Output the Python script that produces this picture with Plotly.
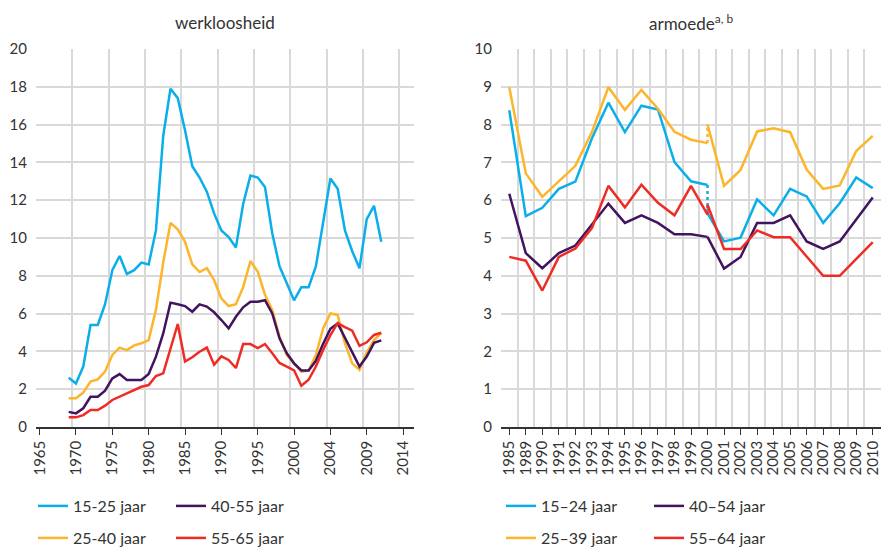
import plotly.graph_objects as go

# ---------------- data: werkloosheid (left) ----------------
# axis positions (the source axis has one extra slot after 2000, hence labels 2004/2009/2014)
werk_periode = list(range(1969, 2013))
werk_tickvals = [1965, 1970, 1975, 1980, 1985, 1990, 1995, 2000, 2005, 2010, 2015]
werk_ticktext = ["1965", "1970", "1975", "1980", "1985", "1990", "1995", "2000", "2004", "2009", "2014"]

werk_15_25 = [2.6, 2.3, 3.2, 5.4, 5.4, 6.5, 8.3, 9.05, 8.1, 8.3, 8.7, 8.6, 10.4, 15.4, 17.9, 17.4,
              15.7, 13.8, 13.2, 12.45, 11.3, 10.4, 10.05, 9.5, 11.8, 13.3, 13.2, 12.7, 10.25, 8.5,
              7.6, 6.7, 7.4, 7.4, 8.5, 10.8, 13.15, 12.6, 10.4, 9.3, 8.4, 11.0, 11.7, 9.8]
werk_25_40 = [1.52, 1.52, 1.82, 2.4, 2.52, 2.93, 3.81, 4.2, 4.07, 4.32, 4.43, 4.6, 6.2, 8.7, 10.8, 10.46,
              9.8, 8.6, 8.2, 8.4, 7.78, 6.8, 6.4, 6.5, 7.4, 8.78, 8.22, 7.0, 6.2, 4.78,
              3.81, 3.37, 2.93, 2.98, 3.81, 5.22, 6.01, 5.93, 4.43, 3.37, 3.02, 3.95, 4.6, 4.97]
werk_40_55 = [0.8, 0.72, 0.99, 1.6, 1.6, 1.92, 2.57, 2.8, 2.49, 2.49, 2.49, 2.8, 3.72, 4.95, 6.58, 6.49,
              6.4, 6.1, 6.49, 6.37, 6.07, 5.66, 5.22, 5.83, 6.33, 6.63, 6.63, 6.71, 6.01, 4.69,
              3.9, 3.37, 2.99, 2.99, 3.5, 4.4, 5.2, 5.48, 4.69, 3.9, 3.2, 3.73, 4.45, 4.58]
werk_55_65 = [0.51, 0.51, 0.63, 0.9, 0.9, 1.13, 1.43, 1.6, 1.75, 1.96, 2.13, 2.22, 2.7, 2.84, 4.16, 5.45,
              3.46, 3.69, 3.98, 4.2, 3.3, 3.74, 3.55, 3.12, 4.39, 4.39, 4.18, 4.39, 3.9, 3.39,
              3.2, 3.0, 2.18, 2.5, 3.2, 4.08, 4.86, 5.5, 5.29, 5.1, 4.29, 4.48, 4.87, 4.99]

# ---------------- data: armoede (right) ----------------
armoede_jaren = ["1985", "1989", "1990", "1991", "1992", "1993", "1994", "1995", "1996", "1997",
                 "1998", "1999", "2000", "2001", "2002", "2003", "2004", "2005", "2006", "2007",
                 "2008", "2009", "2010"]
breuk_jaar = "2000"   # series break: old definition up to 2000, new from 2000

arm_15_24_oud = [8.38, 5.58, 5.8, 6.3, 6.49, 7.63, 8.58, 7.8, 8.5, 8.4, 7.01, 6.5, 6.4]
arm_15_24_nieuw = [5.65, 4.91, 5.01, 6.02, 5.6, 6.3, 6.1, 5.4, 5.92, 6.6, 6.32]
arm_25_39_oud = [8.99, 6.71, 6.09, 6.5, 6.91, 7.8, 8.99, 8.39, 8.92, 8.42, 7.81, 7.6, 7.51]
arm_25_39_nieuw = [8.0, 6.38, 6.8, 7.82, 7.9, 7.8, 6.81, 6.3, 6.39, 7.3, 7.7]
arm_40_54_oud = [6.17, 4.6, 4.2, 4.6, 4.8, 5.35, 5.91, 5.4, 5.6, 5.4, 5.1, 5.1, 5.03]
arm_40_54_nieuw = [5.03, 4.19, 4.5, 5.4, 5.4, 5.6, 4.91, 4.71, 4.91, 5.48, 6.07]
arm_55_64_oud = [4.5, 4.4, 3.61, 4.5, 4.72, 5.26, 6.38, 5.81, 6.41, 5.93, 5.6, 6.38, 5.62]
arm_55_64_nieuw = [5.88, 4.71, 4.71, 5.2, 5.02, 5.02, 4.51, 4.0, 4.0, 4.44, 4.89]

werk_labels = ["15-25 jaar", "25-40 jaar", "40-55 jaar", "55-65 jaar"]
arm_labels = ["15\u201324 jaar", "25\u201339 jaar", "40\u201354 jaar", "55\u201364 jaar"]

BLUE, YELLOW, PURPLE, RED = "#0AAFEA", "#FDB52B", "#42145F", "#EE2C24"
colors = [BLUE, YELLOW, PURPLE, RED]
GRID = "#d9d9d9"
TXT = "#333333"
FONT = "Lato"

W, H = 882, 548
ML, MT, MB = 0, 49, 121
PH = H - MT - MB

fig = go.Figure()

# left legends: row 1 -> blue, purple ; row 2 -> yellow, red
werk_series = [werk_15_25, werk_25_40, werk_40_55, werk_55_65]
werk_legend = ["legend", "legend2", "legend", "legend2"]
for lab, ys, col, lg in zip(werk_labels, werk_series, colors, werk_legend):
    fig.add_trace(go.Scatter(x=werk_periode, y=ys, mode="lines", name=lab,
                             line=dict(color=col, width=2.5), legend=lg,
                             xaxis="x", yaxis="y", hoverinfo="skip"))

# right chart
pos = {j: i for i, j in enumerate(armoede_jaren)}
b = pos[breuk_jaar]
x_oud = list(range(0, b + 1))
x_nieuw = list(range(b, len(armoede_jaren)))
arm_oud = [arm_15_24_oud, arm_25_39_oud, arm_40_54_oud, arm_55_64_oud]
arm_nieuw = [arm_15_24_nieuw, arm_25_39_nieuw, arm_40_54_nieuw, arm_55_64_nieuw]
arm_legend = ["legend3", "legend4", "legend3", "legend4"]
for lab, yo, yn, col, lg in zip(arm_labels, arm_oud, arm_nieuw, colors, arm_legend):
    fig.add_trace(go.Scatter(x=x_oud, y=yo, mode="lines", name=lab,
                             line=dict(color=col, width=2.5), legend=lg,
                             xaxis="x2", yaxis="y2", hoverinfo="skip"))
    fig.add_trace(go.Scatter(x=x_nieuw, y=yn, mode="lines", showlegend=False,
                             line=dict(color=col, width=2.5),
                             xaxis="x2", yaxis="y2", hoverinfo="skip"))
    fig.add_trace(go.Scatter(x=[b, b], y=[yo[-1], yn[0]], mode="lines", showlegend=False,
                             line=dict(color=col, width=2.5, dash="dot"),
                             xaxis="x2", yaxis="y2", hoverinfo="skip"))

dom1 = [36 / W, 414 / W]
dom2 = [501 / W, 881 / W]

common_x = dict(ticks="outside", ticklen=6, tickwidth=1.2, tickcolor=TXT,
                showline=True, linecolor=TXT, linewidth=1.5, showgrid=False,
                zeroline=False, tickangle=-90, tickfont=dict(size=15, color=TXT, family=FONT),
                fixedrange=True, automargin=False)
common_y = dict(showgrid=True, gridcolor=GRID, gridwidth=1.5, zeroline=False, ticks="",
                showline=False, tickfont=dict(size=15, color=TXT, family=FONT),
                ticklabelstandoff=8, fixedrange=True, automargin=False)

fig.update_layout(
    width=W, height=H,
    margin=dict(l=ML, r=0, t=MT, b=MB, autoexpand=False),
    paper_bgcolor="white", plot_bgcolor="white",
    font=dict(family=FONT, color=TXT),
    xaxis=dict(domain=dom1, range=[1964.5, 2016.5], tickmode="array",
               tickvals=werk_tickvals, ticktext=werk_ticktext,
               minor=dict(tickmode="linear", tick0=1964.5, dtick=5, showgrid=True,
                          gridcolor=GRID, gridwidth=1.5, ticks=""),
               anchor="y", **common_x),
    yaxis=dict(domain=[0, 1], range=[0, 20], dtick=2, anchor="x", **common_y),
    xaxis2=dict(domain=dom2, range=[-0.5, len(armoede_jaren) - 0.5], tickmode="array",
                tickvals=list(range(len(armoede_jaren))), ticktext=armoede_jaren,
                minor=dict(tickmode="linear", tick0=-0.5, dtick=1, showgrid=True,
                           gridcolor=GRID, gridwidth=1.5, ticks=""),
                anchor="y2", **common_x),
    yaxis2=dict(domain=[0, 1], range=[0, 10], dtick=1, anchor="x2", **common_y),
    annotations=[
        dict(text="werkloosheid", x=sum(dom1) / 2, y=1 + 27 / PH, xref="paper", yref="paper",
             xanchor="center", yanchor="middle", showarrow=False,
             font=dict(size=17, color=TXT, family=FONT)),
        dict(text="armoede<sup>a, b</sup>", x=sum(dom2) / 2, y=1 + 27 / PH, xref="paper", yref="paper",
             xanchor="center", yanchor="middle", showarrow=False,
             font=dict(size=17, color=TXT, family=FONT)),
    ],
)

leg_common = dict(orientation="h", xanchor="left", yanchor="middle", bgcolor="rgba(0,0,0,0)",
                  font=dict(size=16, color=TXT, family=FONT), entrywidthmode="pixels",
                  itemclick=False, itemdoubleclick=False)
row1 = (427 - 506) / PH
row2 = (427 - 538) / PH
fig.update_layout(
    legend=dict(x=33 / W, y=row1, entrywidth=93, **leg_common),
    legend2=dict(x=33 / W, y=row2, entrywidth=93, **leg_common),
    legend3=dict(x=501 / W, y=row1, entrywidth=103, **leg_common),
    legend4=dict(x=501 / W, y=row2, entrywidth=103, **leg_common),
)

fig.write_html("out.html", config={"displayModeBar": False},
               post_script="document.body.style.margin='0';document.body.style.padding='0';")
